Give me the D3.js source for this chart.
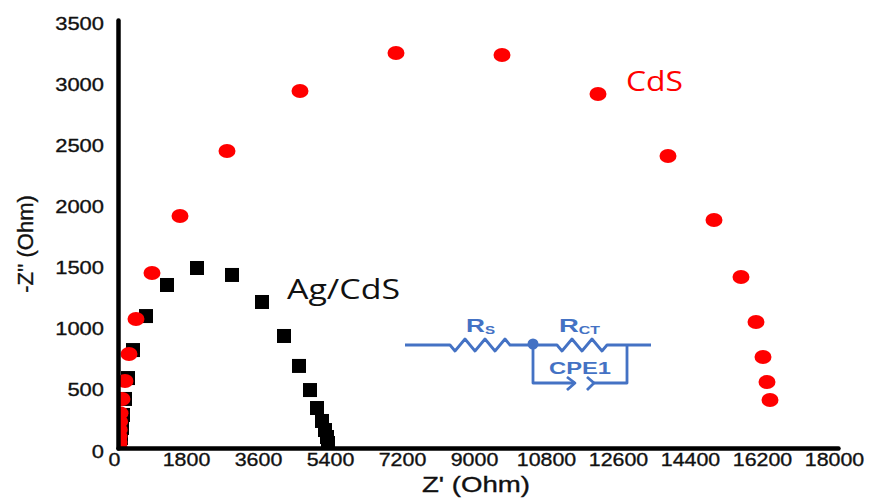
<!DOCTYPE html>
<html lang="en">
<head>
    <meta charset="UTF-8">
    <title>Nyquist plot CdS and Ag/CdS</title>
    <script src="https://d3js.org/d3.v7.min.js"></script>
    <style>
        html, body { margin: 0; padding: 0; background: #fff; }
        svg { display: block; }
        .tick text { font-family: "Liberation Sans", Arial, sans-serif; font-size: 19px; fill: #111; stroke: #111; stroke-width: 0.35px; }
        .domain { stroke: #000; stroke-width: 4.5px; stroke-linecap: round; }
        .title { font-family: "Liberation Sans", Arial, sans-serif; font-size: 22px; fill: #111; stroke: #111; stroke-width: 0.35px; }
        .label { font-family: "Open Sans", sans-serif; font-size: 28px; }
        .circuit { font-family: "Liberation Sans", Arial, sans-serif; fill: #4472c4; font-weight: bold; }
    </style>
</head>
<body>
    <svg id="chart" width="869" height="499"></svg>
    <script>
        // Values
        const xTicks = [0, 1800, 3600, 5400, 7200, 9000, 10800, 12600, 14400, 16200, 18000];
        const yTicks = [0, 500, 1000, 1500, 2000, 2500, 3000, 3500];

        const cdsX = [16300, 16225, 16125, 15950, 15575, 14900, 13750, 12000, 9600, 6950, 4550, 2725, 1550, 850, 450, 275, 175, 100, 50, 40, 30, 25, 25, 20];
        const cdsY = [392, 540, 744, 1030, 1398, 1864, 2388, 2895, 3214, 3230, 2919, 2429, 1897, 1431, 1055, 769, 548, 401, 285, 215, 150, 95, 50, 15];

        const agX = [5250, 5225, 5175, 5100, 4975, 4800, 4525, 4150, 3600, 2850, 1975, 1225, 700, 375, 250, 175, 125, 100, 75];
        const agY = [41, 90, 147, 221, 327, 474, 671, 916, 1194, 1415, 1472, 1333, 1079, 801, 572, 401, 270, 164, 82];

        const svg = d3.select("#chart");

        const x = d3.scaleLinear().domain([0, 18000]).range([118, 838]);
        const y = d3.scaleLinear().domain([0, 3500]).range([448, 20]);

        // Markers stay inside the axes
        svg.append("clipPath").attr("id", "plot")
            .append("rect")
            .attr("x", 118).attr("y", 0)
            .attr("width", 751).attr("height", 449);

        // Ag/CdS squares go under the CdS dots
        const squareSize = 14;
        const marks = svg.append("g").attr("clip-path", "url(#plot)");
        marks.append("g").selectAll("rect")
            .data(agX)
            .enter().append("rect")
            .attr("x", d => x(d) - squareSize / 2)
            .attr("y", (d, i) => y(agY[i]) - squareSize / 2)
            .attr("width", squareSize)
            .attr("height", squareSize)
            .attr("fill", "#000");

        marks.append("g").selectAll("ellipse")
            .data(cdsX)
            .enter().append("ellipse")
            .attr("cx", d => x(d))
            .attr("cy", (d, i) => y(cdsY[i]))
            .attr("rx", 8.5)
            .attr("ry", 7)
            .attr("fill", "#ff0000");

        // Axes, the printed labels sit a little off the tick positions
        const xAxis = svg.append("g")
            .attr("transform", "translate(0,448)")
            .call(d3.axisBottom(x).tickValues(xTicks).tickFormat(d3.format("d")).tickSize(0));
        xAxis.selectAll("text")
            .attr("x", -4)
            .attr("y", 5)
            .attr("textLength", d => String(d).length * 11.9)
            .attr("lengthAdjust", "spacingAndGlyphs");

        const yAxis = svg.append("g")
            .attr("transform", "translate(118,0)")
            .call(d3.axisLeft(y).tickValues(yTicks).tickFormat(d3.format("d")).tickSize(0));
        yAxis.selectAll("text")
            .attr("x", -14)
            .attr("y", 3)
            .attr("textLength", d => String(d).length * 12.2)
            .attr("lengthAdjust", "spacingAndGlyphs");

        svg.append("text").attr("class", "title")
            .attr("x", 476).attr("y", 492)
            .attr("text-anchor", "middle")
            .attr("textLength", 108).attr("lengthAdjust", "spacingAndGlyphs")
            .text("Z' (Ohm)");

        svg.append("text").attr("class", "title")
            .attr("transform", "translate(33,244) rotate(-90)")
            .attr("text-anchor", "middle")
            .text("-Z'' (Ohm)");

        svg.append("text").attr("class", "label")
            .attr("x", 287).attr("y", 299).attr("fill", "#111")
            .attr("textLength", 113).attr("lengthAdjust", "spacingAndGlyphs")
            .text("Ag/CdS");
        svg.append("text").attr("class", "label")
            .attr("x", 626).attr("y", 91).attr("fill", "#ff0000")
            .attr("textLength", 57).attr("lengthAdjust", "spacingAndGlyphs")
            .text("CdS");

        // Equivalent circuit sketch
        const blue = "#4472c4";
        const circuit = svg.append("g")
            .attr("fill", "none")
            .attr("stroke", blue)
            .attr("stroke-width", 2.8)
            .attr("stroke-linejoin", "round");

        const zigzag = (x0, y0, step, n) => {
            let p = "";
            for (let i = 0; i < n; i++) {
                p += ` L${x0 + step * (i + 0.5)},${y0 + (i % 2 ? -6 : 6)}`;
            }
            return p + ` L${x0 + step * n},${y0}`;
        };
        circuit.append("path").attr("d", "M405,345 L450,345" + zigzag(450, 345, 10, 6) + " L557,345" + zigzag(557, 345, 10, 5) + " L651,345");
        circuit.append("path").attr("d", "M533,345 L533,383 L575,383");
        circuit.append("path").attr("d", "M567,377 L575,383 L567,390");
        circuit.append("path").attr("d", "M587,377 L594,383 L587,390");
        circuit.append("path").attr("d", "M594,383 L627,383 L627,345");
        svg.append("circle").attr("cx", 533).attr("cy", 344).attr("r", 5.5).attr("fill", blue);

        const rs = svg.append("text").attr("class", "circuit").attr("x", 466).attr("y", 332).attr("font-size", 19)
            .attr("textLength", 29).attr("lengthAdjust", "spacingAndGlyphs");
        rs.append("tspan").text("R");
        rs.append("tspan").attr("font-size", 11).attr("dy", 2).text("S");
        const rct = svg.append("text").attr("class", "circuit").attr("x", 559).attr("y", 332).attr("font-size", 19)
            .attr("textLength", 41).attr("lengthAdjust", "spacingAndGlyphs");
        rct.append("tspan").text("R");
        rct.append("tspan").attr("font-size", 11).attr("dy", 2).text("CT");
        svg.append("text").attr("class", "circuit")
            .attr("x", 549).attr("y", 374).attr("font-size", 16)
            .attr("textLength", 62).attr("lengthAdjust", "spacingAndGlyphs")
            .text("CPE1");
    </script>
</body>
</html>
